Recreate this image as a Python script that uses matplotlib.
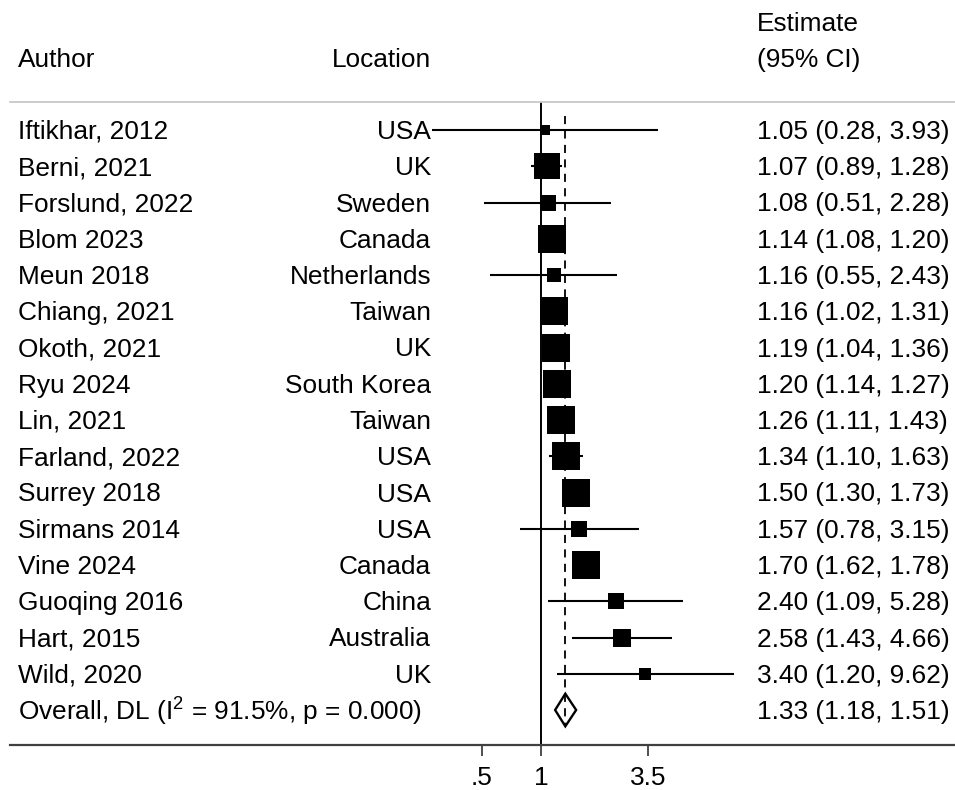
import numpy as np
import matplotlib
matplotlib.use("Agg")
import matplotlib.pyplot as plt
from matplotlib.patches import Polygon
from matplotlib.transforms import blended_transform_factory

plt.rcParams['font.family'] = ['Liberation Sans', 'DejaVu Sans']
plt.rcParams['mathtext.fontset'] = 'custom'
plt.rcParams['mathtext.rm'] = 'Liberation Sans'
plt.rcParams['mathtext.it'] = 'Liberation Sans'

# study-level estimates (risk ratios)
authors = ['Iftikhar, 2012', 'Berni, 2021', 'Forslund, 2022', 'Blom 2023', 'Meun 2018',
           'Chiang, 2021', 'Okoth, 2021', 'Ryu 2024', 'Lin, 2021', 'Farland, 2022',
           'Surrey 2018', 'Sirmans 2014', 'Vine 2024', 'Guoqing 2016', 'Hart, 2015',
           'Wild, 2020']
locations = ['USA', 'UK', 'Sweden', 'Canada', 'Netherlands', 'Taiwan', 'UK',
             'South Korea', 'Taiwan', 'USA', 'USA', 'USA', 'Canada', 'China',
             'Australia', 'UK']
est = [1.05, 1.07, 1.08, 1.14, 1.16, 1.16, 1.19, 1.20, 1.26, 1.34, 1.50, 1.57,
       1.70, 2.40, 2.58, 3.40]
lo = [0.28, 0.89, 0.51, 1.08, 0.55, 1.02, 1.04, 1.14, 1.11, 1.10, 1.30, 0.78,
      1.62, 1.09, 1.43, 1.20]
hi = [3.93, 1.28, 2.28, 1.20, 2.43, 1.31, 1.36, 1.27, 1.43, 1.63, 1.73, 3.15,
      1.78, 5.28, 4.66, 9.62]
weights = [1.2, 8.1, 2.7, 9.4, 2.3, 8.7, 9.4, 10.0, 9.4, 8.7, 9.0, 3.1, 10.0,
           2.7, 3.5, 2.0]

overall_label = 'Overall, DL (I$^{2}$ = 91.5%, p = 0.000)'
overall = (1.33, 1.18, 1.51)

xticks = [0.5, 1, 3.5]
xticklabels = ['.5', '1', '3.5']

W, H = 955, 790
fig = plt.figure(figsize=(W / 100, H / 100), dpi=100)
# plot area spans from the top rule to the bottom axis line
ax = fig.add_axes([10 / W, 1 - 745 / H, 945 / W, (745 - 102) / H])

px_per_log = 85.3
xmin = np.exp((10 - 541) / px_per_log)
xmax = np.exp((955 - 541) / px_per_log)
ax.set_xscale('log')
ax.set_xlim(xmin, xmax)
row_h = 36.25
ax.set_ylim((745 - 130) / row_h, (102 - 130) / row_h)

fs = 18.9
n = len(authors)
rows = np.arange(n)

# confidence intervals and weighted squares
ax.hlines(rows, lo, hi, color='black', lw=1.5, zorder=2)
for i in range(n):
    side = 9.16 * np.sqrt(weights[i]) * 0.72
    ax.plot(est[i], i, marker='s', ms=side, color='black', mec='black', mew=0,
            zorder=3)

# reference lines
ax.axvline(1, color='black', lw=1.4, zorder=1)
ov_row = n
ax.plot([overall[0], overall[0]], [-0.38, ov_row + 0.45], color='black', lw=1.3,
        dashes=(4.5, 3.5), zorder=1)

# pooled estimate diamond
dh = 0.45
diamond = Polygon([(overall[1], ov_row), (overall[0], ov_row - dh),
                   (overall[2], ov_row), (overall[0], ov_row + dh)],
                  closed=True, fill=False, edgecolor='black', lw=1.7, zorder=4)
ax.add_patch(diamond)

# spines and axis
for s in ['left', 'right']:
    ax.spines[s].set_visible(False)
ax.spines['top'].set_color('#c8c8c8')
ax.spines['top'].set_linewidth(1.3)
ax.spines['bottom'].set_color('#404040')
ax.spines['bottom'].set_linewidth(1.6)
ax.set_yticks([])
ax.set_xticks(xticks)
ax.set_xticklabels(xticklabels, fontsize=fs)
ax.minorticks_off()
ax.tick_params(axis='x', length=8, width=1.3, color='#404040', pad=7)

# text columns
tr = blended_transform_factory(fig.transFigure, ax.transData)
x_author, x_loc, x_est = 18 / W, 431 / W, 757 / W
dy = 2 / row_h
for i in range(n):
    ax.text(x_author, i + dy, authors[i], transform=tr, fontsize=fs, ha='left',
            va='center', clip_on=False)
    ax.text(x_loc, i + dy, locations[i], transform=tr, fontsize=fs, ha='right',
            va='center', clip_on=False)
    ax.text(x_est, i + dy, f'{est[i]:.2f} ({lo[i]:.2f}, {hi[i]:.2f})', transform=tr,
            fontsize=fs, ha='left', va='center', clip_on=False)
ax.text(x_author, ov_row + dy, overall_label, transform=tr, fontsize=fs, ha='left',
        va='center', clip_on=False)
ax.text(x_est, ov_row + dy, f'{overall[0]:.2f} ({overall[1]:.2f}, {overall[2]:.2f})',
        transform=tr, fontsize=fs, ha='left', va='center', clip_on=False)

# headers
hy = (58 - 130) / row_h + dy
ax.text(x_author, hy, 'Author', transform=tr, fontsize=fs, ha='left',
        va='center', clip_on=False)
ax.text(x_loc, hy, 'Location', transform=tr, fontsize=fs, ha='right',
        va='center', clip_on=False)
ax.text(x_est, hy, '(95% CI)', transform=tr, fontsize=fs, ha='left',
        va='center', clip_on=False)
ax.text(x_est, (22 - 130) / row_h + dy, 'Estimate', transform=tr, fontsize=fs,
        ha='left', va='center', clip_on=False)

fig.savefig('out.png', dpi=100, facecolor='white')
